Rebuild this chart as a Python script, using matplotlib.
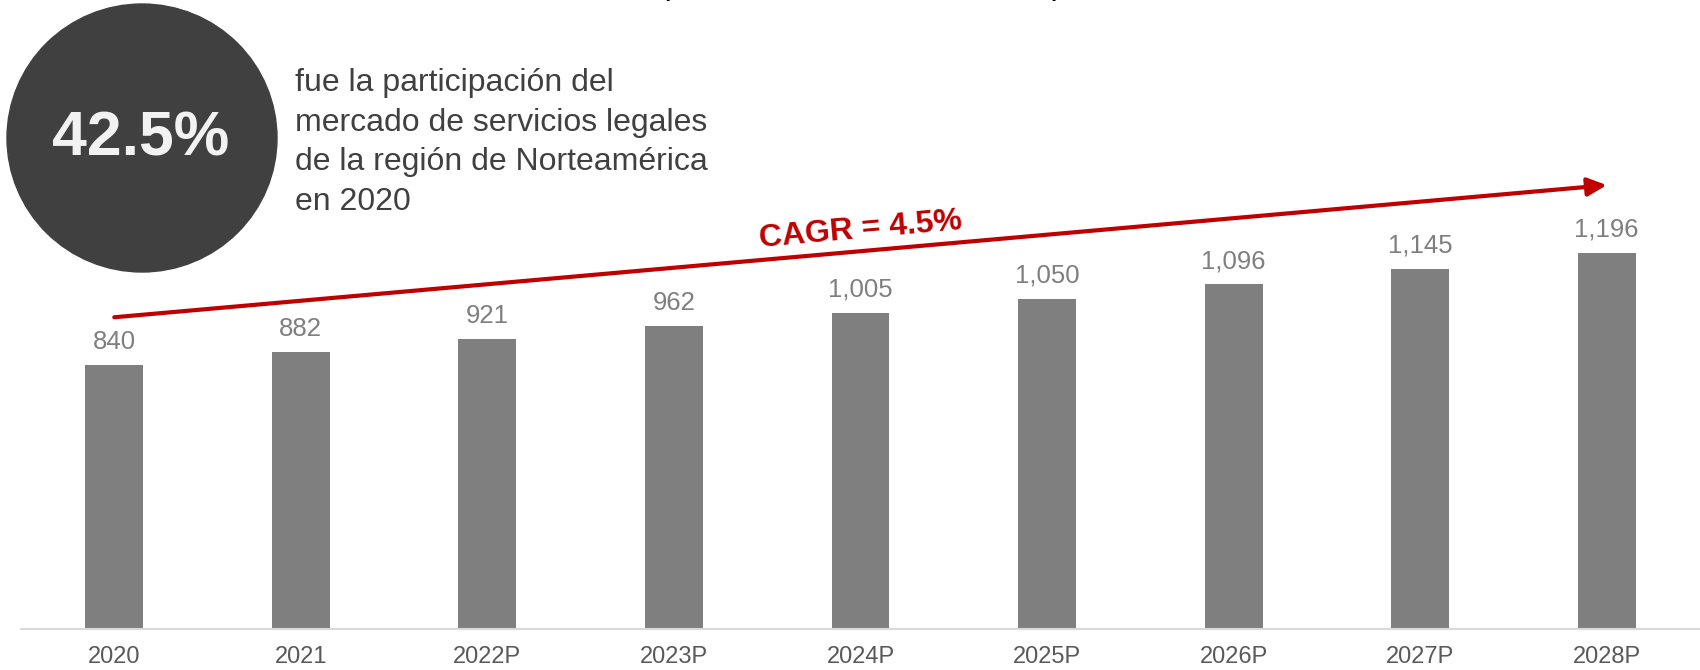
import numpy as np
import matplotlib
matplotlib.use('Agg')
import matplotlib.pyplot as plt
from matplotlib.patches import Ellipse

# Datos del grafico
anios = ['2020', '2021', '2022P', '2023P', '2024P', '2025P', '2026P', '2027P', '2028P']
valores = [840, 882, 921, 962, 1005, 1050, 1096, 1145, 1196]
cagr_texto = 'CAGR = 4.5%'
participacion = '42.5%'
descripcion = ['fue la participación del',
               'mercado de servicios legales',
               'de la región de Norteamérica',
               'en 2020']
titulo = '(Miles de millones de USD)'

plt.rcParams['font.family'] = ['Liberation Sans', 'DejaVu Sans']

W, H = 1700, 670
fig = plt.figure(figsize=(W / 100, H / 100), dpi=100)
fig.patch.set_facecolor('white')

# Eje con las barras
ax = fig.add_axes([21 / W, 41 / H, 1 - 21 / W, 629 / H])
x = np.arange(len(anios))
ax.bar(x, valores, width=0.31, color='#7f7f7f')
ax.set_xlim(-0.5, 8.5)
ax.set_ylim(0, 2000)
ax.set_xticks(x)
ax.set_xticklabels(anios, fontsize=17, color='#595959')
ax.tick_params(axis='x', length=0, pad=12)
ax.set_yticks([])
for s in ['top', 'right', 'left']:
    ax.spines[s].set_visible(False)
ax.spines['bottom'].set_color('#d9d9d9')
ax.spines['bottom'].set_linewidth(1.5)

# Valores encima de las barras
for i, v in enumerate(valores):
    ax.annotate(f'{v:,}', (x[i], v), xytext=(0, 11.5), textcoords='offset points',
                ha='center', va='baseline', fontsize=18.5, color='#7f7f7f')

# Flecha del CAGR
y0 = valores[0] * 1.18
y1 = valores[-1] * 1.18
ax.annotate('', xy=(x[-1], y1), xytext=(x[0], y0),
            arrowprops=dict(arrowstyle='-|>,head_length=1.15,head_width=0.55',
                            color='#c00000', lw=3, shrinkA=0, shrinkB=0,
                            mutation_scale=10))
p0 = ax.transData.transform((x[0], y0))
p1 = ax.transData.transform((x[-1], y1))
angulo = np.degrees(np.arctan2(p1[1] - p0[1], p1[0] - p0[0]))
ax.annotate(cagr_texto, ((x[0] + x[-1]) / 2, (y0 + y1) / 2), xytext=(0, 15),
            textcoords='offset points', ha='center', va='center',
            rotation=angulo, rotation_mode='anchor', fontsize=23,
            fontweight='bold', color='#c00000')

# Circulo con el porcentaje
fig.add_artist(Ellipse((142 / W, 1 - 138 / H), 270 / W, 268 / H,
                       transform=fig.transFigure, color='#404040'))
fig.text(141 / W, 1 - 156 / H, participacion, ha='center', va='baseline',
         fontsize=45, fontweight='bold', color='#f2f2f2')

# Texto junto al circulo
for i, linea in enumerate(descripcion):
    fig.text(295 / W, 1 - (91 + i * 39.5) / H, linea, ha='left', va='baseline',
             fontsize=23, color='#404040')

# Titulo cortado arriba
fig.text(861 / W, 1 + 6 / H, titulo, ha='center', va='baseline',
         fontsize=24, color='black')

fig.savefig('out.png', dpi=100)
